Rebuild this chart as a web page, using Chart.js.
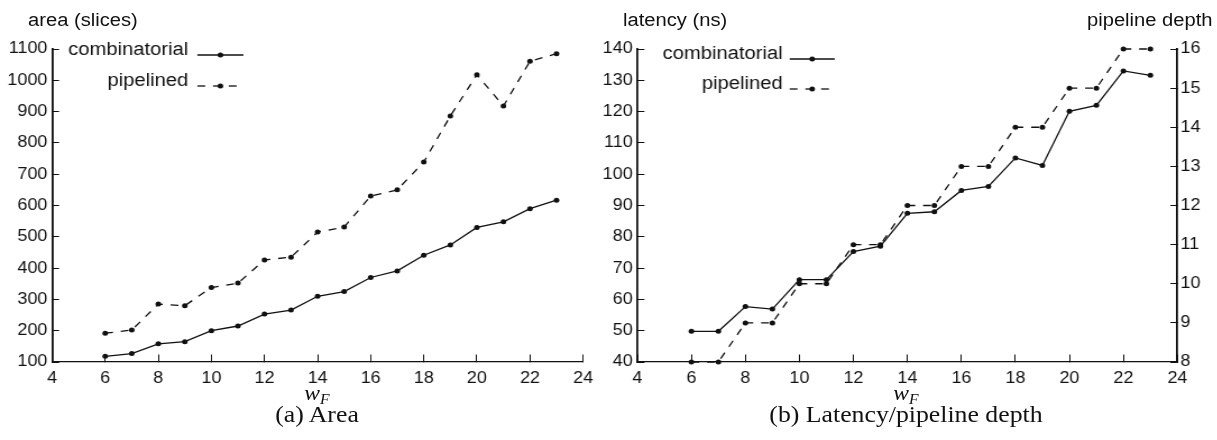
<!DOCTYPE html>
<html>
<head>
<meta charset="utf-8">
<script src="https://cdn.jsdelivr.net/npm/chart.js@4"></script>
<style>
  html, body { margin:0; padding:0; background:#fff; overflow:hidden; }
  /* the source figure is stretched sideways, so the whole frame is too */
  #frame { position:absolute; left:0; top:0; height:440px; transform-origin:0 0;
           font-family:'Liberation Sans', Arial, sans-serif; color:#111; }
  .box { position:absolute; top:0; height:400px; }
  .lbl { position:absolute; top:11px; font-size:18px; line-height:18px; white-space:nowrap; }
  .wf  { position:absolute; top:383px; font-family:'Liberation Serif', serif; font-style:italic;
         font-size:21px; line-height:21px; transform:translateX(-50%); white-space:nowrap; }
  .wf sub { font-size:14px; vertical-align:-4px; }
  .cap { position:absolute; top:403px; font-family:'Liberation Serif', serif; font-size:23px;
         line-height:23px; transform:translateX(-50%); white-space:nowrap; }
</style>
</head>
<body>
<div id="frame">
  <div class="lbl" data-x="28">area (slices)</div>
  <div class="lbl" data-x="623">latency (ns)</div>
  <div class="lbl" data-x="1087">pipeline depth</div>

  <div class="box" data-x="0" data-w="600"><canvas id="areaChart"></canvas></div>
  <div class="box" data-x="600" data-w="617"><canvas id="latChart"></canvas></div>

  <div class="wf" data-x="317">w<sub>F</sub></div>
  <div class="wf" data-x="906">w<sub>F</sub></div>
  <div class="cap" data-x="317">(a) Area</div>
  <div class="cap" data-x="906">(b) Latency/pipeline depth</div>
</div>

<script>
// ── data ──
const wF        = [6,7,8,9,10,11,12,13,14,15,16,17,18,19,20,21,22,23];
const areaComb  = [118,127,158,165,200,215,253,266,310,325,370,391,441,474,530,548,590,617];
const areaPipe  = [192,202,285,280,338,352,426,435,515,531,630,650,739,886,1018,918,1061,1085];
const latComb   = [49.8,49.8,57.7,56.9,66.3,66.3,75.3,77,87.5,88,94.8,96.1,105.2,102.8,120.1,122,133,131.6];
const depthPipe = [8,8,9,9,10,10,11,11,12,12,13,13,14,14,15,15,16,16];
const seriesNames = ['combinatorial','pipelined'];

const INK = '#111';
const S = 1.12;          // horizontal stretch of the figure
const u = px => px / S;  // page px -> frame px

// place the frame and the html bits in page pixels
const frame = document.getElementById('frame');
frame.style.width = u(1217) + 'px';
frame.style.transform = `scaleX(${S})`;
frame.querySelectorAll('[data-x]').forEach(el => {
  el.style.left = u(+el.dataset.x) + 'px';
  if (el.dataset.w) el.style.width = u(+el.dataset.w) + 'px';
});

const pts = ys => wF.map((x,i) => ({x, y:ys[i]}));

// legend drawn inside the plot: right-aligned name, then a line sample with a dot
const inlineLegend = {
  id:'inlineLegend',
  afterDatasetsDraw(chart, args, o) {
    const {ctx, chartArea:a} = chart;
    ctx.save();
    ctx.font = '18px "Liberation Sans", Arial, sans-serif';
    ctx.fillStyle = INK; ctx.textAlign = 'right'; ctx.textBaseline = 'alphabetic';
    chart.data.datasets.forEach((ds,i) => {
      const y = a.top + o.rows[i];
      ctx.fillText(ds.label, a.left + o.textRight, y);
      ctx.strokeStyle = ds.borderColor; ctx.lineWidth = ds.borderWidth;
      ctx.setLineDash(ds.borderDash || []);
      ctx.beginPath(); ctx.moveTo(a.left + o.from, y); ctx.lineTo(a.left + o.to, y); ctx.stroke();
      ctx.setLineDash([]);
      ctx.beginPath(); ctx.arc(a.left + (o.from + o.to)/2, y, ds.pointRadius, 0, Math.PI*2); ctx.fill();
    });
    ctx.restore();
  }
};

function line(label, data, dashed, axis) {
  return {label, data, yAxisID:axis || 'y', borderColor:INK, borderWidth:1.3,
    borderDash: dashed ? [7,7] : [], pointRadius:2.5, pointBackgroundColor:INK,
    pointBorderWidth:0, tension:0, clip:false};
}

function xAxis() {
  return {type:'linear', min:4, max:24,
    ticks:{stepSize:2, color:INK, font:{size:16}, padding:14, maxRotation:0, autoSkip:false,
      callback: v => String(v)},
    grid:{drawOnChartArea:false, tickLength:-7.5, color:INK, lineWidth:1},
    border:{color:INK, width:1.3},
    // fixed height, and let the end labels hang over the layout padding
    afterFit: s => { s.height = 38; s.paddingLeft = 0; s.paddingRight = 0; }};
}

function yAxis(pos, min, max, step, width, pad) {
  return {type:'linear', position:pos, min, max,
    ticks:{stepSize:step, color:INK, font:{size:16}, padding:pad, callback: v => String(v)},
    grid:{drawOnChartArea:false, tickLength:-6.25, color:INK, lineWidth:1},
    border:{color:INK, width:1.8},
    afterFit: s => { s.width = width; }};
}

const common = {responsive:true, maintainAspectRatio:false, animation:false, events:[]};

// ── (a) Area ── plot spans page x 52..582, y 49..362
new Chart(document.getElementById('areaChart'), {
  type:'line',
  data:{datasets:[line(seriesNames[0], pts(areaComb), false), line(seriesNames[1], pts(areaPipe), true)]},
  options:{...common,
    layout:{padding:{top:49, right:u(600) - u(582), left:0, bottom:0}},
    plugins:{legend:{display:false}, tooltip:{enabled:false},
      inlineLegend:{rows:[6,37], textRight:u(188-52), from:u(197-52), to:u(243-52)}},
    scales:{x:xAxis(), y:yAxis('left', 100, 1100, 100, u(52), 10.5)}},
  plugins:[inlineLegend]
});

// ── (b) Latency / pipeline depth ── plot spans page x 637..1176
new Chart(document.getElementById('latChart'), {
  type:'line',
  data:{datasets:[line(seriesNames[0], pts(latComb), false), line(seriesNames[1], pts(depthPipe), true, 'y2')]},
  options:{...common,
    layout:{padding:{top:49, right:0, left:0, bottom:0}},
    plugins:{legend:{display:false}, tooltip:{enabled:false},
      inlineLegend:{rows:[10,40], textRight:u(782-637), from:u(789-637), to:u(834-637)}},
    scales:{x:xAxis(),
      y:yAxis('left', 40, 140, 10, u(637) - u(600), 10.5),
      y2:yAxis('right', 8, 16, 1, u(1217) - u(1176), 9)}},
  plugins:[inlineLegend]
});
</script>
</body>
</html>
